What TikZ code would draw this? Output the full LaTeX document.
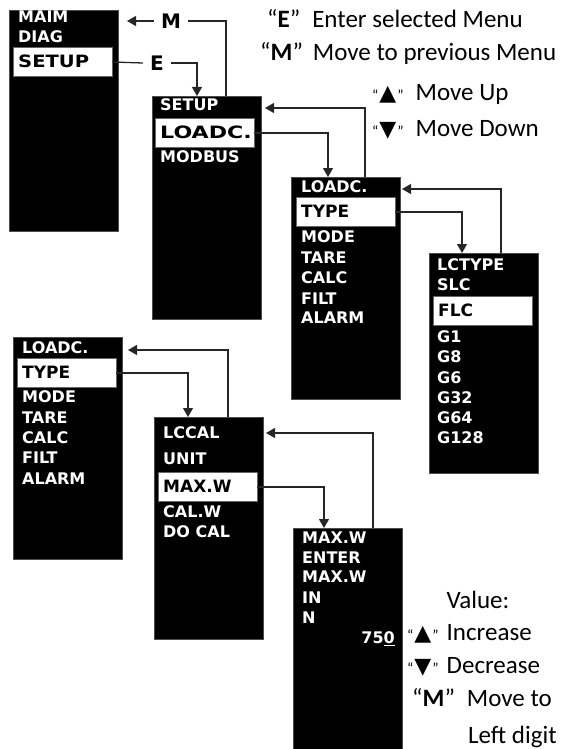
\documentclass[tikz,border=0pt]{standalone}
\usepackage{fontspec}
\setmainfont{Carlito}
\newfontfamily\menufont{DejaVu Sans}
\usetikzlibrary{arrows.meta}

% quoted triangle key
\newcommand\keytri[1]{{\fontsize{15}{15}\selectfont “}\hspace{1pt}{\menufont\fontsize{22}{22}\selectfont #1}\hspace{1pt}{\fontsize{15}{15}\selectfont ”}}

\tikzset{
  menu/.style={fill=black, draw=black!70, anchor=north west, inner sep=0pt, minimum width=109pt},
  item/.style={text=white, anchor=west, inner sep=0pt, font=\menufont\bfseries\fontsize{16}{16}\selectfont, text height=11.7pt, text depth=0pt},
  sel/.style={item, text=black, fill=white, draw=black!60, inner xsep=5pt, minimum height=29pt, text width=89pt, font=\menufont\bfseries\fontsize{17}{17}\selectfont},
  key/.style={font=\menufont\bfseries\fontsize{20}{20}\selectfont, inner xsep=7pt, inner ysep=0pt, text height=14.5pt, text depth=0pt},
  note/.style={anchor=west, inner sep=0pt, font=\fontsize{25}{25}\selectfont, text height=16pt, text depth=0pt},
  link/.style={draw=black!85, line width=1.3pt},
  arr/.style={link, -{Triangle[length=9pt,width=10pt]}},
}

\begin{document}
\begin{tikzpicture}[x=1pt,y=-1pt]
    \useasboundingbox (0,0) rectangle (563,749);

    % MAIN menu
    \node[menu, minimum height=221pt] (main) at (9,10) {};
    \foreach \t/\y [count=\i] in {MAIM/17, DIAG/37} {
        \node[item] (main\i) at (18,\y) {\t};
    }
    \node[sel] (main-sel) at (13,62) {\scalebox{1.15}[1]{SETUP}};

    % SETUP menu
    \node[menu, minimum height=223pt] (setup) at (152,96) {};
    \node[item] (setup1) at (160,105) {SETUP};
    \node[sel] (setup-sel) at (155,133) {\scalebox{1.3}[1]{LOADC.}};
    \node[item] (setup2) at (160,157) {MODBUS};

    % LOADC. menu
    \node[menu, minimum height=222pt] (loadc) at (291,177) {};
    \node[item] (loadc1) at (301,187) {LOADC.};
    \node[sel] (loadc-sel) at (296,212) {TYPE};
    \foreach \t/\y [count=\i from 2] in {MODE/237, TARE/258, CALC/278, FILT/299, ALARM/318} {
        \node[item] (loadc\i) at (301,\y) {\t};
    }

    % LCTYPE menu
    \node[menu, minimum height=220pt] (lctype) at (429,253) {};
    \node[item] (lctype1) at (437,265) {LCTYPE};
    \node[item] (lctype2) at (437,285) {SLC};
    \node[sel] (lctype-sel) at (433,311) {FLC};
    \foreach \t/\y [count=\i from 3] in {G1/337, G8/357, G6/378, G32/398, G64/418, G128/438} {
        \node[item] (lctype\i) at (437,\y) {\t};
    }

    % LOADC. menu again
    \node[menu, minimum height=222pt] (loadcb) at (13,337) {};
    \node[item] (loadcb1) at (22,348) {LOADC.};
    \node[sel] (loadcb-sel) at (17,373) {TYPE};
    \foreach \t/\y [count=\i from 2] in {MODE/397, TARE/418, CALC/438, FILT/458, ALARM/479} {
        \node[item] (loadcb\i) at (22,\y) {\t};
    }

    % LCCAL menu
    \node[menu, minimum height=222pt] (lccal) at (154,417) {};
    \node[item] (lccal1) at (163,433) {LCCAL};
    \node[item] (lccal2) at (163,459) {UNIT};
    \node[sel] (lccal-sel) at (158,487) {MAX.W};
    \node[item] (lccal3) at (163,512) {CAL.W};
    \node[item] (lccal4) at (163,532) {DO CAL};

    % MAX.W entry
    \node[menu, minimum height=221pt] (maxw) at (293,528) {};
    \foreach \t/\y [count=\i] in {MAX.W/538, ENTER/558, MAX.W/577, IN/598, N/618} {
        \node[item] (maxw\i) at (302,\y) {\t};
    }
    \node[item, anchor=east] (maxw-val) at (395,638) {75\underline{0}};

    % key labels
    \node[key] (keyE) at (157,63) {E};
    \node[key] (keyM) at (171,21) {M};

    % ends of the connectors
    \coordinate (main-back) at (127,21);
    \coordinate (setup-in) at (197,96);
    \coordinate (setup-out) at (226,96);
    \coordinate (setup-back) at (265,108);
    \coordinate (loadc-in) at (328,177);
    \coordinate (loadc-out) at (365,177);
    \coordinate (loadc-back) at (402,189);
    \coordinate (lctype-in) at (462,253);
    \coordinate (lctype-out) at (501,253);
    \coordinate (loadcb-back) at (128,350);
    \coordinate (lccal-in) at (188,417);
    \coordinate (lccal-out) at (228,417);
    \coordinate (lccal-back) at (266,433);
    \coordinate (maxw-in) at (324,528);
    \coordinate (maxw-out) at (373,528);

    % enter
    \draw[link] (main-sel.east) -- (keyE.west);
    \draw[arr] (keyE.east) -| (setup-in);
    \draw[arr] (setup-sel.east) -| (loadc-in);
    \draw[arr] (loadc-sel.east) -| (lctype-in);
    \draw[arr] (loadcb-sel.east) -| (lccal-in);
    \draw[arr] (lccal-sel.east) -| (maxw-in);

    % back
    \draw[link] (setup-out) |- (keyM.east);
    \draw[arr] (keyM.west) -- (main-back);
    \draw[arr] (loadc-out) |- (setup-back);
    \draw[arr] (lctype-out) |- (loadc-back);
    \draw[arr] (lccal-out) |- (loadcb-back);
    \draw[arr] (maxw-out) |- (lccal-back);

    % legend
    \node[note] (legE) at (267,20) {“\textbf{E}”\hspace{12pt}Enter selected Menu};
    \node[note] (legM) at (260,53) {“\textbf{M}”\hspace{10pt}Move to previous Menu};
    \node[note] (legUp) at (372,93) {\keytri{▲}\hspace{12pt}Move Up};
    \node[note] (legDown) at (372,128) {\keytri{▼}\hspace{12pt}Move Down};
    \node[note, anchor=center] (value) at (478,600) {Value:};
    \node[note] (inc) at (407,632) {\keytri{▲}\hspace{8pt}Increase};
    \node[note] (dec) at (407,665) {\keytri{▼}\hspace{8pt}Decrease};
    \node[note] (mleft) at (412,698) {“\textbf{M}”\hspace{12pt}Move to};
    \node[note] (ldigit) at (468,735) {Left digit};
\end{tikzpicture}
\end{document}
